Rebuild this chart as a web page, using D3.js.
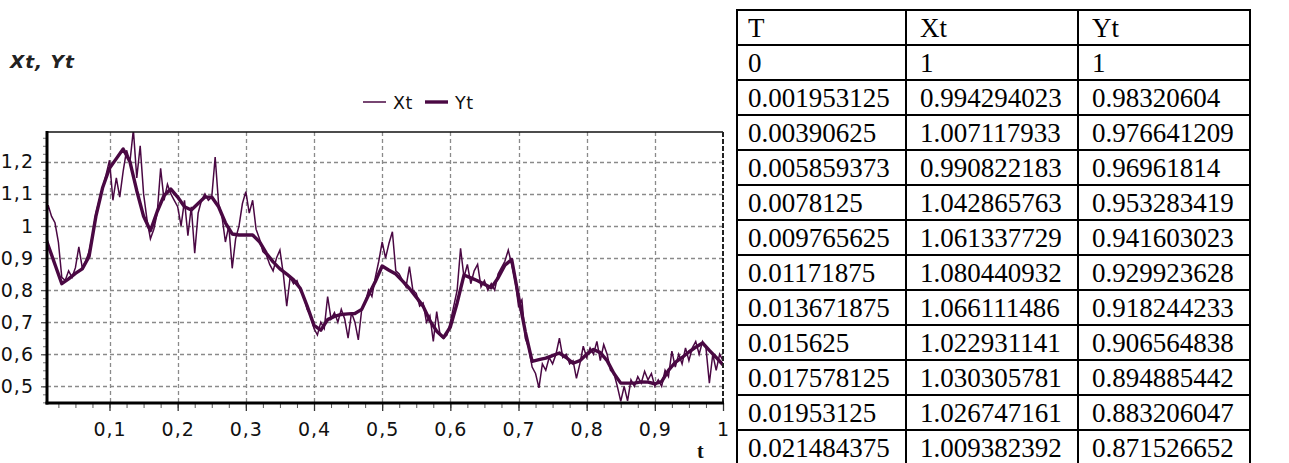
<!DOCTYPE html>
<html>
<head>
<meta charset="utf-8">
<script src="https://cdn.jsdelivr.net/npm/d3@7"></script>
<style>
  body { margin: 0; background: #fff; }
  svg { display: block; }
</style>
</head>
<body>
<div id="chart"></div>
<script>
// table rows (as printed)
const tableT  = ["T", "0", "0.001953125", "0.00390625", "0.005859373", "0.0078125", "0.009765625",
                 "0.01171875", "0.013671875", "0.015625", "0.017578125", "0.01953125", "0.021484375"];
const tableXt = ["Xt", "1", "0.994294023", "1.007117933", "0.990822183", "1.042865763", "1.061337729",
                 "1.080440932", "1.066111486", "1.022931141", "1.030305781", "1.026747161", "1.009382392"];
const tableYt = ["Yt", "1", "0.98320604", "0.976641209", "0.96961814", "0.953283419", "0.941603023",
                 "0.929923628", "0.918244233", "0.906564838", "0.894885442", "0.883206047", "0.871526652"];

const xtStep = 0.005;
const xtValues = [
  1.00, 0.99, 1.065, 1.03, 1.01, 0.95, 0.84, 0.83, 0.86, 0.84,
  0.87, 0.935, 0.87, 0.89, 0.92, 0.97, 1.04, 1.08, 1.12, 1.16,
  1.205, 1.08, 1.15, 1.09, 1.17, 1.236, 1.20, 1.30, 1.15, 1.25,
  1.10, 1.02, 0.96, 0.99, 1.04, 1.18, 1.08, 1.13, 1.10, 1.08,
  1.06, 1.00, 1.08, 0.97, 1.06, 0.915, 1.04, 1.08, 1.10, 1.08,
  1.09, 1.215, 1.07, 1.03, 0.95, 1.00, 0.868, 0.96, 1.00, 1.07,
  1.107, 1.04, 1.08, 0.99, 0.96, 0.92, 0.91, 0.88, 0.86, 0.90,
  0.925, 0.85, 0.75, 0.84, 0.82, 0.83, 0.80, 0.78, 0.74, 0.72,
  0.68, 0.66, 0.70, 0.68, 0.78, 0.71, 0.73, 0.70, 0.74, 0.71,
  0.65, 0.73, 0.70, 0.645, 0.74, 0.76, 0.80, 0.78, 0.84, 0.89,
  0.95, 0.90, 0.946, 0.982, 0.86, 0.85, 0.83, 0.81, 0.873, 0.80,
  0.79, 0.75, 0.76, 0.70, 0.72, 0.64, 0.733, 0.66, 0.65, 0.66,
  0.70, 0.75, 0.80, 0.93, 0.84, 0.88, 0.82, 0.86, 0.88, 0.81,
  0.83, 0.80, 0.82, 0.80, 0.85, 0.87, 0.89, 0.925, 0.88, 0.83,
  0.75, 0.77, 0.65, 0.62, 0.56, 0.54, 0.495, 0.57, 0.55, 0.59,
  0.57, 0.60, 0.65, 0.59, 0.60, 0.57, 0.58, 0.525, 0.57, 0.625,
  0.59, 0.62, 0.60, 0.64, 0.58, 0.63, 0.60, 0.55, 0.54, 0.50,
  0.453, 0.50, 0.455, 0.52, 0.50, 0.53, 0.51, 0.547, 0.52, 0.54,
  0.50, 0.52, 0.50, 0.55, 0.53, 0.61, 0.56, 0.60, 0.57, 0.62,
  0.58, 0.62, 0.64, 0.60, 0.64, 0.62, 0.51, 0.60, 0.55, 0.60,
  0.58
];

const ytStep = 0.01;
const ytValues = [
  1.0, 0.94, 0.88, 0.82, 0.835, 0.852, 0.866, 0.905, 1.03, 1.12,
  1.18, 1.21, 1.24, 1.20, 1.11, 1.03, 0.985, 1.045, 1.095, 1.115,
  1.09, 1.06, 1.05, 1.07, 1.09, 1.09, 1.06, 1.01, 0.975, 0.972,
  0.972, 0.972, 0.951, 0.915, 0.888, 0.866, 0.85, 0.832, 0.805, 0.75,
  0.69, 0.675, 0.708, 0.718, 0.724, 0.726, 0.727, 0.74, 0.785, 0.827,
  0.875, 0.862, 0.85, 0.828, 0.805, 0.778, 0.75, 0.705, 0.672, 0.652,
  0.685, 0.76, 0.847, 0.838, 0.829, 0.818, 0.807, 0.838, 0.878, 0.895,
  0.78, 0.67, 0.578, 0.583, 0.588, 0.596, 0.604, 0.59, 0.572, 0.58,
  0.60, 0.615, 0.605, 0.58, 0.54, 0.51, 0.51, 0.51, 0.514, 0.513,
  0.508, 0.515, 0.55, 0.575, 0.59, 0.607, 0.622, 0.635, 0.612, 0.59,
  0.567
];

const xTicks = [0.1, 0.2, 0.3, 0.4, 0.5, 0.6, 0.7, 0.8, 0.9, 1];
const yTicks = [0.5, 0.6, 0.7, 0.8, 0.9, 1, 1.1, 1.2];
const seriesNames = ["Xt", "Yt"];

const lineColor = "#4a0843";
const sans = "'DejaVu Sans', Verdana, sans-serif";

let svg = d3.select("#chart").append("svg")
    .attr("width", 1289)
    .attr("height", 463);

svg.append("rect").attr("width", 1289).attr("height", 463).attr("fill", "#fff");

let pLeft = 47, pRight = 723, pTop = 132, pBottom = 403;

let x = d3.scaleLinear().domain([0.0083, 1]).range([pLeft, pRight]);
let y = d3.scaleLinear().domain([0.448, 1.293]).range([pBottom, pTop]);

let fmt = d => d3.format(".1~f")(d).replace(".", ",");

// grid
let grid = svg.append("g").attr("stroke", "#8a8a8a").attr("stroke-width", 1.3)
    .attr("stroke-dasharray", "4,3");
grid.selectAll(".vg").data(xTicks.filter(d => d < 1)).join("line")
    .attr("x1", d => Math.round(x(d)) + 0.5).attr("x2", d => Math.round(x(d)) + 0.5)
    .attr("y1", pTop).attr("y2", pBottom);
grid.selectAll(".hg").data(yTicks).join("line")
    .attr("x1", pLeft).attr("x2", pRight)
    .attr("y1", d => Math.round(y(d)) + 0.5).attr("y2", d => Math.round(y(d)) + 0.5);

// minor ticks
let minorX = d3.range(1, 41).map(i => i * 0.025).filter(d => d > 0.0083);
svg.append("g").attr("transform", "translate(0," + pBottom + ")")
    .call(d3.axisBottom(x).tickValues(minorX).tickSize(5).tickFormat(""))
    .call(g => g.select(".domain").remove())
    .selectAll("line").attr("stroke", "#555");
let minorY = d3.range(18, 52).map(i => i * 0.025).filter(d => d < 1.29);
svg.append("g").attr("transform", "translate(" + pLeft + ",0)")
    .call(d3.axisLeft(y).tickValues(minorY).tickSize(4).tickFormat(""))
    .call(g => g.select(".domain").remove())
    .selectAll("line").attr("stroke", "#777");

// major axes
svg.append("g").attr("class", "x_axis")
    .attr("transform", "translate(0," + pBottom + ")")
    .call(d3.axisBottom(x).tickValues(xTicks).tickSize(8).tickPadding(12).tickFormat(fmt))
    .call(g => g.select(".domain").remove())
    .call(g => g.selectAll("line").attr("stroke", "#333").attr("stroke-width", 1.3))
    .call(g => g.selectAll("text").attr("font-family", sans)
        .attr("font-size", 19).attr("fill", "#111").attr("letter-spacing", 1));

svg.append("g").attr("class", "y_axis")
    .attr("transform", "translate(" + pLeft + ",0)")
    .call(d3.axisLeft(y).tickValues(yTicks).tickSize(6).tickPadding(7).tickFormat(fmt))
    .call(g => g.select(".domain").remove())
    .call(g => g.selectAll("line").attr("stroke", "#555").attr("stroke-width", 1.3))
    .call(g => g.selectAll("text").attr("font-family", sans)
        .attr("font-size", 19).attr("fill", "#111").attr("letter-spacing", 1));

// clip
svg.append("clipPath").attr("id", "plotclip").append("rect")
    .attr("x", pLeft).attr("y", pTop).attr("width", pRight - pLeft).attr("height", pBottom - pTop);

let line = d3.line().x(d => x(d[0])).y(d => y(d[1]));
let xtData = xtValues.map((v, i) => [i * xtStep, v]);
let ytData = ytValues.map((v, i) => [i * ytStep, v]);

let plot = svg.append("g").attr("clip-path", "url(#plotclip)");
plot.append("path").attr("d", line(xtData))
    .attr("fill", "none").attr("stroke", lineColor).attr("stroke-width", 1.5);
plot.append("path").attr("d", line(ytData))
    .attr("fill", "none").attr("stroke", lineColor).attr("stroke-width", 3.4)
    .attr("stroke-linejoin", "round");

// frame
svg.append("line").attr("x1", pLeft).attr("x2", pRight).attr("y1", pTop).attr("y2", pTop)
    .attr("stroke", "#111").attr("stroke-width", 1.5);
svg.append("line").attr("x1", pRight).attr("x2", pRight).attr("y1", pTop).attr("y2", pBottom)
    .attr("stroke", "#222").attr("stroke-width", 2).attr("stroke-dasharray", "5,2");
svg.append("line").attr("x1", pLeft).attr("x2", pLeft).attr("y1", pTop - 1).attr("y2", pBottom + 1.5)
    .attr("stroke", "#000").attr("stroke-width", 3);
svg.append("line").attr("x1", pLeft - 1.5).attr("x2", pRight + 1).attr("y1", pBottom).attr("y2", pBottom)
    .attr("stroke", "#000").attr("stroke-width", 3);

// titles
svg.append("text").attr("x", 10).attr("y", 68)
    .attr("font-family", sans).attr("font-size", 18.5)
    .attr("font-weight", "bold").attr("font-style", "italic").attr("letter-spacing", 1)
    .attr("fill", "#222").text("Xt, Yt");
svg.append("text").attr("x", 697).attr("y", 458)
    .attr("font-family", "'Liberation Serif', 'Times New Roman', serif").attr("font-size", 20)
    .attr("font-weight", "bold").attr("fill", "#111").text("t");

// legend
let legendX = [363, 425];
let legend = svg.append("g");
seriesNames.forEach((name, i) => {
    legend.append("line").attr("x1", legendX[i]).attr("x2", legendX[i] + 23)
        .attr("y1", 102).attr("y2", 102)
        .attr("stroke", lineColor).attr("stroke-width", i === 0 ? 1.5 : 3.4);
    legend.append("text").attr("x", legendX[i] + 30).attr("y", 109)
        .attr("font-family", sans).attr("font-size", 17.5).attr("letter-spacing", 0.5)
        .attr("fill", "#111").text(name);
});

// table
let colX = [737, 906, 1078, 1250];
let textOff = [11, 14, 14];
let rowTop = 10, rowH = 35;
let rows = tableT.map((t, i) => [t, tableXt[i], tableYt[i]]);
let table = svg.append("g");
rows.forEach((r, i) => {
    r.forEach((cell, j) => {
        table.append("text").attr("x", colX[j] + textOff[j]).attr("y", rowTop + i * rowH + 27)
            .attr("font-family", "'Liberation Serif', 'Times New Roman', serif")
            .attr("font-size", 27).attr("fill", "#000").text(cell);
    });
});
table.selectAll(".hl").data(d3.range(rows.length + 1)).join("line")
    .attr("x1", colX[0] - 1).attr("x2", colX[3] + 1)
    .attr("y1", i => rowTop + i * rowH).attr("y2", i => rowTop + i * rowH)
    .attr("stroke", "#000").attr("stroke-width", 2);
table.selectAll(".vl").data(colX).join("line")
    .attr("x1", d => d).attr("x2", d => d)
    .attr("y1", rowTop - 1).attr("y2", rowTop + rows.length * rowH + 1)
    .attr("stroke", "#000").attr("stroke-width", 2);
</script>
</body>
</html>
